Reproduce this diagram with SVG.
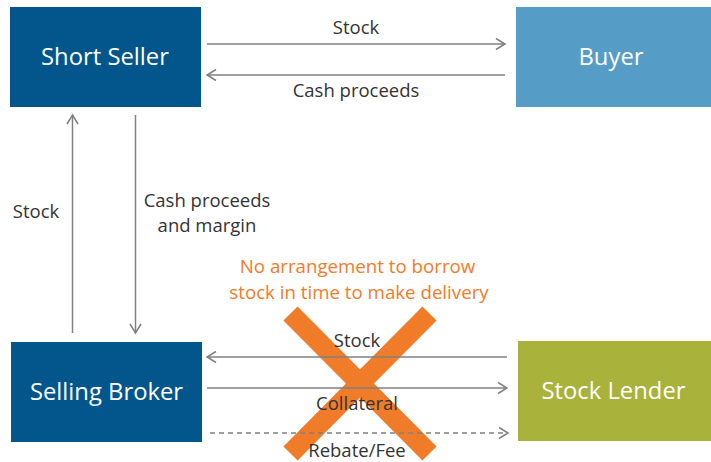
<svg xmlns="http://www.w3.org/2000/svg" width="711" height="462" viewBox="0 0 711 462">
  <style>
    .node-text { font-family: "Open Sans", "Noto Sans", "Liberation Sans", sans-serif; font-size: 23.8px; fill: #ffffff; text-anchor: middle; }
    .label { font-family: "Open Sans", "Noto Sans", "Liberation Sans", sans-serif; font-size: 18.5px; fill: #333333; text-anchor: middle; }
    .warn { font-family: "Open Sans", "Noto Sans", "Liberation Sans", sans-serif; font-size: 18.7px; fill: #F07C2A; text-anchor: middle; }
    .flow { stroke: #808080; stroke-width: 1.5; fill: none; marker-end: url(#chevron); }
    .dashed { stroke-dasharray: 5 4; }
  </style>
  <defs>
    <marker id="chevron" markerUnits="userSpaceOnUse" markerWidth="14" markerHeight="14" refX="10" refY="7" orient="auto">
      <polyline points="1,1.5 10,7 1,12.5" fill="none" stroke="#808080" stroke-width="1.5"/>
    </marker>
  </defs>

  <rect width="711" height="462" fill="#ffffff"/>

  <!-- crossed-out lending arrangement -->
  <g id="no-borrow-cross" stroke="#F07C2A" stroke-width="20" stroke-linecap="butt">
    <line x1="290.5" y1="313.5" x2="429.5" y2="453.5"/>
    <line x1="429.5" y1="313.5" x2="290.5" y2="453.5"/>
  </g>

  <g id="short-seller">
    <rect x="10" y="7" width="191" height="100" fill="#03568C"/>
    <text class="node-text" x="105" y="64.5">Short Seller</text>
  </g>
  <g id="buyer">
    <rect x="516" y="7" width="195" height="100" fill="#559DC6"/>
    <text class="node-text" x="611" y="64.5">Buyer</text>
  </g>
  <g id="selling-broker">
    <rect x="11" y="342" width="191" height="100" fill="#03568C"/>
    <text class="node-text" x="106.5" y="399.5">Selling Broker</text>
  </g>
  <g id="stock-lender">
    <rect x="518" y="341" width="193" height="100" fill="#A9B23A"/>
    <text class="node-text" x="613.5" y="398.5">Stock Lender</text>
  </g>

  <g id="connectors">
    <line class="flow" x1="207" y1="44" x2="505" y2="44"/>
    <line class="flow" x1="505" y1="75" x2="207" y2="75"/>
    <line class="flow" x1="72.5" y1="333" x2="72.5" y2="115"/>
    <line class="flow" x1="135.5" y1="115" x2="135.5" y2="333"/>
    <line class="flow" x1="507" y1="357" x2="207" y2="357"/>
    <line class="flow" x1="207" y1="388" x2="507" y2="388"/>
    <line class="flow dashed" x1="210" y1="433" x2="508" y2="433"/>
  </g>

  <g id="labels">
    <text class="label" x="356" y="33.5">Stock</text>
    <text class="label" x="356" y="96.5">Cash proceeds</text>
    <text class="label" x="36" y="217.5">Stock</text>
    <text class="label" x="207" y="206.5">Cash proceeds</text>
    <text class="label" x="207" y="231.5">and margin</text>
    <text class="label" x="357" y="346.5">Stock</text>
    <text class="label" x="357" y="409.5">Collateral</text>
    <text class="label" x="357" y="456.5">Rebate/Fee</text>
    <text class="warn" x="357.5" y="272.5">No arrangement to borrow</text>
    <text class="warn" x="359" y="298.5">stock in time to make delivery</text>
  </g>
</svg>
